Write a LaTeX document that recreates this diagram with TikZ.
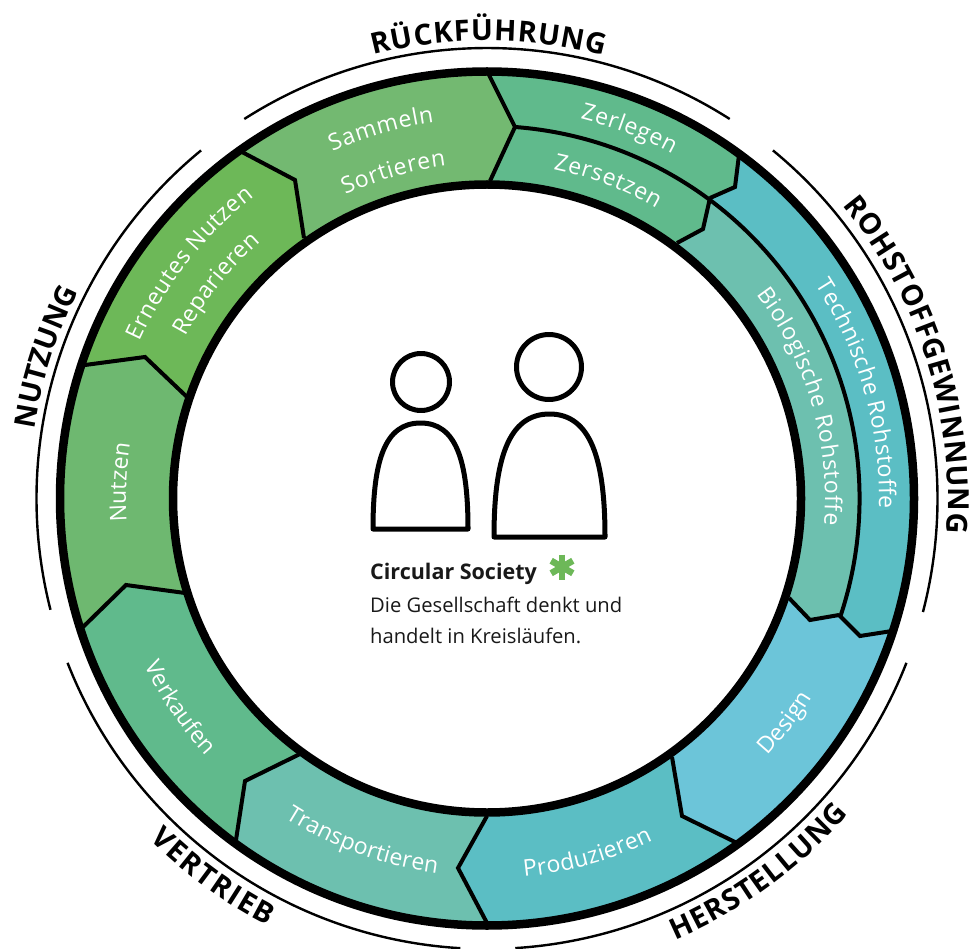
\documentclass[tikz,border=0pt]{standalone}
\usepackage{fontspec}
\setmainfont{Open Sans}
\usepackage{xcolor}
\usetikzlibrary{calc,decorations.text}
\definecolor{sammelnfill}{HTML}{73B971}
\definecolor{reparfill}{HTML}{6DB858}
\definecolor{nutzenfill}{HTML}{6EB870}
\definecolor{verkauffill}{HTML}{60BA8C}
\definecolor{transfill}{HTML}{6DC0AF}
\definecolor{produfill}{HTML}{5BBEC4}
\definecolor{designfill}{HTML}{6CC5D9}
\definecolor{starfill}{HTML}{6DB858}
\tikzset{
ringline/.style={draw=black, line width=8.5pt},
divide/.style={draw=black, line width=4pt, line join=miter},
thinarc/.style={draw=black, line width=2.4pt},
person/.style={draw=black, line width=5pt, line join=round, fill=white},
bodytext/.style={inner sep=0pt, anchor=base west, font=\fontsize{20.2}{20.2}\selectfont, text=black!90}
}
\newcommand{\segfont}{\color{white}\fontsize{23}{23}\selectfont}
\newcommand{\titlefont}{\bfseries\color{black}\fontsize{29}{29}\selectfont}
% wedge between two dividers, each with an inner, middle and outer point
\newcommand{\ringseg}[3]{\fill[#1] (C) -- (#2i) -- (#2m) -- (#2o) -- ($(C)!2!(#2o)$) -- ($(C)!2!(#3o)$) -- (#3o) -- (#3m) -- (#3i) -- cycle;}
\newcommand{\ringtext}[5]{\path[decorate,decoration={text along path,text={|#1|#5},text align={fit to path}}] (C) ++(#3:#2pt) arc[start angle=#3,end angle=#4,radius=#2pt];}

\begin{document}
\begin{tikzpicture}[x=1pt,y=-1pt]
\useasboundingbox (0,0) rectangle (974,949);
\coordinate (C) at (487,498.5);

% dividers
\coordinate (aoi) at (304,238); \coordinate (aom) at (295,180); \coordinate (aoo) at (242,152);
\coordinate (zi) at (490,181); \coordinate (zm) at (515,127); \coordinate (zo) at (488,73);
\coordinate (ki) at (677,243); \coordinate (km) at (703,229); \coordinate (ko) at (710,198);
\coordinate (ti) at (710,198); \coordinate (tm) at (735,187); \coordinate (to) at (739,155);
\coordinate (bi) at (789,598); \coordinate (bm) at (810,620); \coordinate (bo) at (839,615);
\coordinate (ri) at (839,615); \coordinate (rm) at (860,636); \coordinate (ro) at (892,631);
\coordinate (di) at (672,757); \coordinate (dm) at (682,816); \coordinate (do) at (737,843);
\coordinate (pi) at (487,816); \coordinate (pm) at (458,868); \coordinate (po) at (487,923);
\coordinate (vi) at (300,754); \coordinate (vm) at (245,781); \coordinate (vo) at (236,840);
\coordinate (ni) at (185,593); \coordinate (nm) at (126,585); \coordinate (no) at (83,627);
\coordinate (ei) at (187,397); \coordinate (em) at (145,357); \coordinate (eo) at (85,365);

\begin{scope}
\clip (C) circle[radius=427pt];
\ringseg{sammelnfill}{ao}{z}
\ringseg{reparfill}{e}{ao}
\ringseg{nutzenfill}{n}{e}
\ringseg{verkauffill}{v}{n}
\ringseg{transfill}{p}{v}
\ringseg{produfill}{d}{p}
\ringseg{designfill}{r}{d}
\ringseg{produfill}{t}{r}
\fill[designfill] (C) -- (bi) -- (bm) -- (bo) -- (rm) -- (ri) -- cycle;
\fill[transfill] (C) -- (ki) -- (km) -- (ko) arc[start angle=53.4,end angle=-18.3,radius=372.5pt] -- (bm) -- (bi) -- cycle;
\fill[verkauffill] (C) -- (ki) -- (km) -- (ko) -- (tm) -- (to) -- ($(C)!2!(to)$) -- ($(C)!2!(zo)$) -- (zo) -- (zm) -- (zi) -- cycle;
\draw[divide] (aoo) -- (aom) -- (aoi);
\draw[divide] (zo) -- (zm) -- (zi);
\draw[divide] (ko) -- (km) -- (ki);
\draw[divide] (to) -- (tm) -- (ti);
\draw[divide] (bo) -- (bm) -- (bi);
\draw[divide] (ro) -- (rm) -- (ri);
\draw[divide] (di) -- (dm) -- (do);
\draw[divide] (pi) -- (pm) -- (po);
\draw[divide] (vi) -- (vm) -- (vo);
\draw[divide] (ni) -- (nm) -- (no);
\draw[divide] (ei) -- (em) -- (eo);
\draw[divide] (zm) arc[start angle=85.7,end angle=-18.3,radius=372.5pt];
\end{scope}
\fill[white] (C) circle[radius=314pt];
\draw[ringline] (C) circle[radius=427pt];
\draw[ringline] (C) circle[radius=314pt];

% outer arcs
\foreach \a/\b in {122.6/57.4, 50.6/-14.6, -21.4/-86.4, 201.4/266.6, 194.3/129.4}
  \draw[thinarc] (C) ++(\a:450.5pt) arc[start angle=\a,end angle=\b,radius=450.5pt];

% titles
\ringtext{\titlefont}{458}{104.4}{75.2}{RÜCKFÜHRUNG}
\ringtext{\titlefont}{461}{39.5}{-4.3}{ROHSTOFFGEWINNUNG}
\ringtext{\titlefont}{480}{-66.9}{-41.1}{HERSTELLUNG}
\ringtext{\titlefont}{480}{225.3}{242.8}{VERTRIEB}
\ringtext{\titlefont}{458}{171.3}{153.4}{NUTZUNG}

% segment labels
\ringtext{\segfont}{380}{114}{98}{Sammeln}
\ringtext{\segfont}{335}{115}{97}{Sortieren}
\ringtext{\segfont}{391}{76.2}{61.7}{Zerlegen}
\ringtext{\segfont}{336}{78.6}{59.7}{Zersetzen}
\ringtext{\segfont}{392}{33}{-1.4}{Technische Rohstoffe}
\ringtext{\segfont}{338}{37.2}{-4.5}{Biologische Rohstoffe}
\ringtext{\segfont}{381}{-42.5}{-31.8}{Design}
\ringtext{\segfont}{380}{-84.4}{-64.1}{Produzieren}
\ringtext{\segfont}{378}{237.7}{262.4}{Transportieren}
\ringtext{\segfont}{381}{206}{222}{Verkaufen}
\ringtext{\segfont}{361}{183.7}{171.3}{Nutzen}
\ringtext{\segfont}{381}{155.6}{127.7}{Erneutes Nutzen}
\ringtext{\segfont}{342}{151.8}{131.4}{Reparieren}

% the two people
\draw[person] (421,382) circle[radius=28.5pt];
\draw[person] (549,367) circle[radius=32.5pt];
\draw[person] (373,529) .. controls (373,460) and (385,423) .. (420.5,423) .. controls (456,423) and (468,460) .. (468,529) -- cycle;
\draw[person] (494,537) .. controls (494,460) and (508,414) .. (549.5,414) .. controls (591,414) and (605,460) .. (605,537) -- cycle;

% text below
\node[bodytext,font=\bfseries\fontsize{21.5}{21.5}\selectfont] (society) at (370,579) {Circular Society};
\node[bodytext] (line one) at (370,612) {Die Gesellschaft denkt und};
\node[bodytext] (line two) at (370,643) {handelt in Kreisläufen.};
\coordinate (star) at (562,567);
\foreach \a in {90,30,-30}
  \draw[draw=starfill,line width=6.5pt] ($(star)+(\a:12.5pt)$) -- ($(star)+(\a+180:12.5pt)$);
\end{tikzpicture}
\end{document}
